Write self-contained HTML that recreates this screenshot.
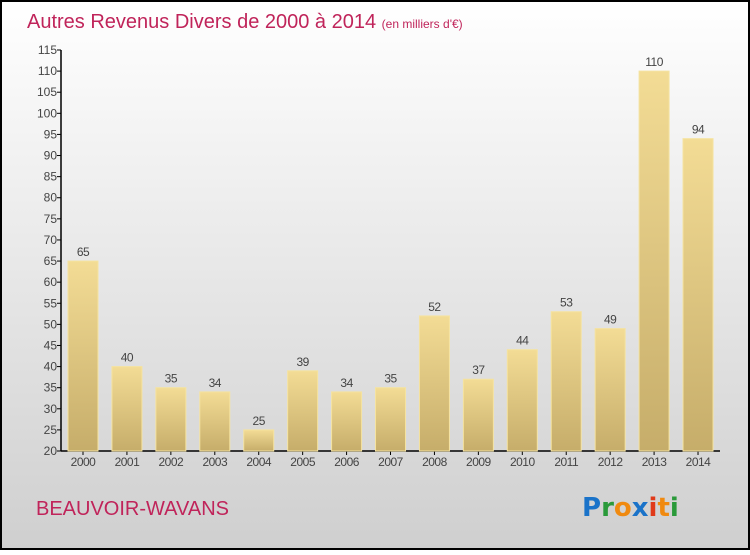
<!DOCTYPE html>
<html><head><meta charset="utf-8"><style>
html,body{margin:0;padding:0}
body{width:750px;height:550px;overflow:hidden;font-family:"Liberation Sans",sans-serif}
</style></head><body>
<svg id="chart" width="750" height="550" xmlns="http://www.w3.org/2000/svg">
<defs>
<linearGradient id="bg" x1="0" y1="0" x2="0" y2="1"><stop offset="0" stop-color="#ffffff"/><stop offset="1" stop-color="#cfcfcf"/></linearGradient>
<linearGradient id="bar" x1="0" y1="0" x2="0" y2="1"><stop offset="0" stop-color="#f3dc95"/><stop offset="1" stop-color="#c6ad6a"/></linearGradient>
</defs>
<rect x="1" y="1" width="748" height="548" fill="url(#bg)" stroke="#000" stroke-width="2"/>
<text x="27" y="28" font-size="20" fill="#c0245a">Autres Revenus Divers de 2000 à 2014 <tspan font-size="12">(en milliers d'€)</tspan></text>
<text x="36" y="515" font-size="20" fill="#c0245a">BEAUVOIR-WAVANS</text>
<g font-size="26" font-weight="bold" font-family="'DejaVu Sans',sans-serif">
<text x="582" y="516"><tspan fill="#1a73c9">P</tspan><tspan fill="#2a9a3a">r</tspan><tspan fill="#f08a10">o</tspan><tspan fill="#1a73c9">x</tspan><tspan fill="#e03a1a">i</tspan><tspan fill="#f08a10">t</tspan><tspan fill="#2a9a3a">i</tspan></text>
</g>
<g id="axes"></g>
<g id="bars"></g>
</svg>
<script>
const years=["2000","2001","2002","2003","2004","2005","2006","2007","2008","2009","2010","2011","2012","2013","2014"];
const values=[65,40,35,34,25,39,34,35,52,37,44,53,49,110,94];
const yTicks=[20,25,30,35,40,45,50,55,60,65,70,75,80,85,90,95,100,105,110,115];
const NS="http://www.w3.org/2000/svg";
const x0=61,x1=720,yMin=20,yMax=115,yB=451,yT=50;
const y=v=>yB-(v-yMin)/(yMax-yMin)*(yB-yT);
const step=43.93, xc=i=>83+i*step, bw=30;
function mk(t,a,p){const e=document.createElementNS(NS,t);for(const k in a)e.setAttribute(k,a[k]);p.appendChild(e);return e;}
const ax=document.getElementById('axes'),bs=document.getElementById('bars');
let l=mk('line',{x1:x0,y1:yT,x2:x0,y2:yB,stroke:'#000','stroke-width':1.5},ax);


l=mk('line',{x1:x0,y1:yB,x2:x1,y2:yB,stroke:'#000','stroke-width':1.5},ax);


yTicks.forEach(v=>{
 const tk=mk('line',{x1:x0-4,y1:y(v),x2:x0,y2:y(v),stroke:'#000'},ax);
 
 
 const t=mk('text',{x:x0-4,y:y(v)+4,'font-size':12,fill:'#444','text-anchor':'end'},ax);
 t.textContent=v;
 
 
});
years.forEach((yr,i)=>{
 const cx=xc(i);
 const tk=mk('line',{x1:cx,y1:yB,x2:cx,y2:yB+4,stroke:'#000'},ax);
 
 
 const t=mk('text',{x:cx,y:yB+15,'font-size':12,fill:'#444','text-anchor':'middle','letter-spacing':'-0.5'},ax);
 t.textContent=yr;
 
 
 const r=mk('rect',{x:cx-bw/2,y:y(values[i]),width:bw,height:yB-y(values[i]),fill:'url(#bar)',stroke:'#f5e3a0','stroke-width':1},bs);
 
 
 const vl=mk('text',{x:cx,y:y(values[i])-5,'font-size':12,fill:'#444','text-anchor':'middle','letter-spacing':'-0.5'},bs);
 vl.textContent=values[i];
 
 
});
</script>
</body></html>
